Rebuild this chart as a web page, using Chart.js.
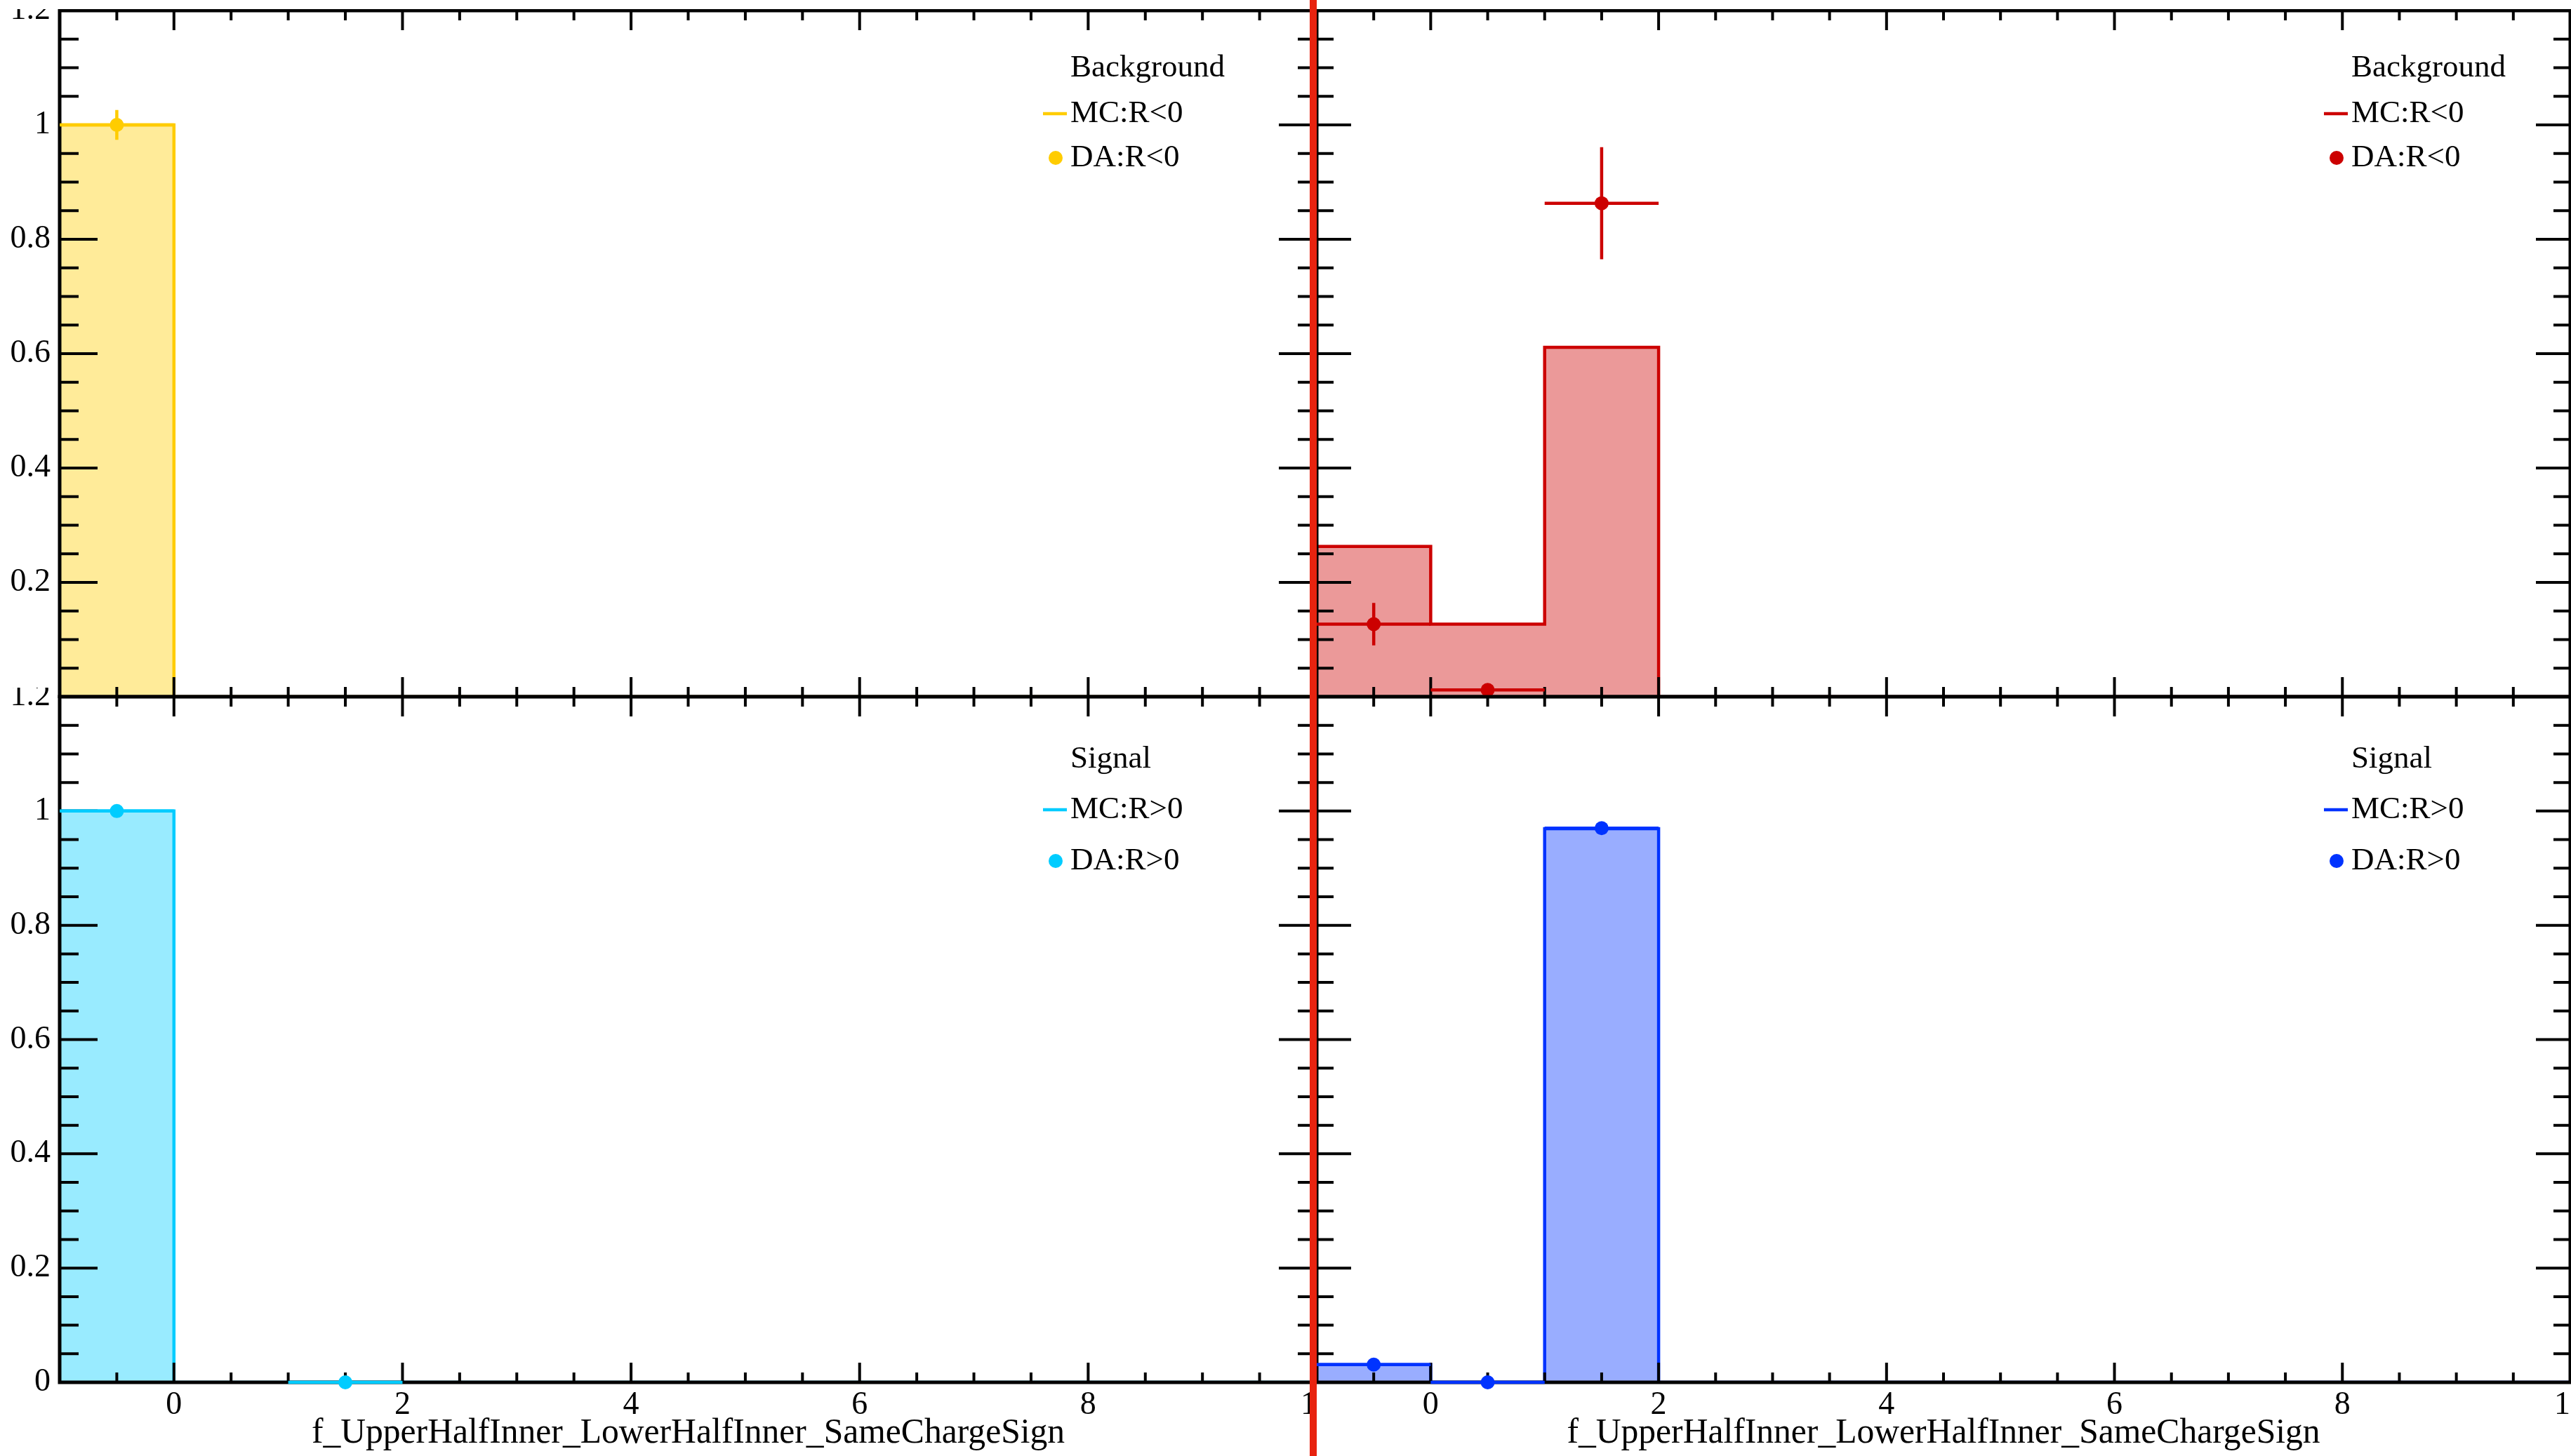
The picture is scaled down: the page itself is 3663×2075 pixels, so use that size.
<!DOCTYPE html>
<html>
<head>
<meta charset="utf-8">
<script src="https://cdn.jsdelivr.net/npm/chart.js@4.4.1/dist/chart.umd.min.js"></script>
<style>
html,body{margin:0;padding:0;background:#fff;overflow:hidden;}
body{width:3663px;height:2075px;position:relative;}
canvas{position:absolute;display:block;}
#redline{position:absolute;left:1866px;top:0;width:10px;height:2075px;background:#e8230f;}
</style>
</head>
<body>
<canvas id="tl" width="1876" height="982" style="left:0px;top:13px;width:1876px;height:982px"></canvas>
<canvas id="tr" width="1789" height="982" style="left:1874px;top:13px;width:1789px;height:982px"></canvas>
<canvas id="bl" width="1876" height="1095" style="left:0px;top:980px;width:1876px;height:1095px"></canvas>
<canvas id="br" width="1789" height="1095" style="left:1874px;top:980px;width:1789px;height:1095px"></canvas>
<div id="redline"></div>
<script>
// ---------------- data ----------------
const binEdges = [-1, 0, 1, 2, 3, 4, 5, 6, 7, 8, 9, 10];
const xTickValues = [0, 2, 4, 6, 8, 10];
const yTickValues = [0, 0.2, 0.4, 0.6, 0.8, 1, 1.2];
const xTitle = 'f_UpperHalfInner_LowerHalfInner_SameChargeSign';
const legendHeaders = ['Background', 'Signal'];
const bkgLabels = ['MC:R<0', 'DA:R<0'];
const sigLabels = ['MC:R>0', 'DA:R>0'];

// top-left: background (yellow)
const mcBkgLeft = [1.0, 0, 0, 0, 0, 0, 0, 0, 0, 0, 0];
const daBkgLeft = [1.0, null, null, null, null, null, null, null, null, null, null];
const daBkgLeftErr = [0.026, 0, 0, 0, 0, 0, 0, 0, 0, 0, 0];
// top-right: background (red)
const mcBkgRight = [0.263, 0.127, 0.611, 0, 0, 0, 0, 0, 0, 0, 0];
const daBkgRight = [0.127, 0.012, 0.863, null, null, null, null, null, null, null, null];
const daBkgRightErr = [0.037, 0.006, 0.098, 0, 0, 0, 0, 0, 0, 0, 0];
// bottom-left: signal (cyan)
const mcSigLeft = [1.0, 0, 0, 0, 0, 0, 0, 0, 0, 0, 0];
const daSigLeft = [1.0, null, 0.0, null, null, null, null, null, null, null, null];
const daSigLeftErr = [0.004, 0, 0, 0, 0, 0, 0, 0, 0, 0, 0];
// bottom-right: signal (blue)
const mcSigRight = [0.031, 0, 0.969, 0, 0, 0, 0, 0, 0, 0, 0];
const daSigRight = [0.031, 0.0, 0.970, null, null, null, null, null, null, null, null];
const daSigRightErr = [0.004, 0, 0.006, 0, 0, 0, 0, 0, 0, 0, 0];

// ---------------- helpers ----------------
const FONT = 'Liberation Serif';
Chart.defaults.font.family = FONT;
Chart.defaults.color = '#000';

function stepPoints(values) {
  const pts = values.map((v, i) => ({x: binEdges[i], y: v}));
  pts.push({x: binEdges[binEdges.length - 1], y: values[values.length - 1]});
  return pts;
}
function errPoints(values, errs) {
  const pts = [];
  values.forEach((v, i) => {
    if (v === null) return;
    const lo = binEdges[i], hi = binEdges[i + 1];
    pts.push({x: (lo + hi) / 2, y: v, xe: (hi - lo) / 2, ye: errs[i]});
  });
  return pts;
}

function drawFrame(chart) {
  const {ctx, chartArea: a, scales: {x, y}} = chart;
  const st = chart.options.plugins.rootStyle;
  ctx.save();
  ctx.strokeStyle = '#000';
  ctx.lineWidth = 4;
  ctx.beginPath();
  // x ticks (top and bottom), minor every 0.5, major every 2
  for (let k = 1; k < 22; k++) {
    const v = -1 + k * 0.5;
    const major = Math.abs(v / 2 - Math.round(v / 2)) < 1e-9;
    const len = major ? st.xMajor : st.xMinor;
    const px = x.getPixelForValue(v);
    ctx.moveTo(px, a.bottom); ctx.lineTo(px, a.bottom - len);
    ctx.moveTo(px, a.top); ctx.lineTo(px, a.top + len);
  }
  // y ticks (left and right), minor every 0.05, major every 0.2
  for (let k = 1; k < 24; k++) {
    const v = k * 0.05;
    const major = k % 4 === 0;
    const len = major ? st.yMajor : st.yMinor;
    const py = y.getPixelForValue(v);
    ctx.moveTo(a.left, py); ctx.lineTo(a.left + len, py);
    ctx.moveTo(a.right, py); ctx.lineTo(a.right - len, py);
  }
  ctx.stroke();
  ctx.lineWidth = 5;
  ctx.strokeRect(a.left, a.top, a.right - a.left, a.bottom - a.top);
  ctx.restore();
}

function drawErrors(chart, ds) {
  const {ctx, scales: {x, y}} = chart;
  ctx.save();
  ctx.strokeStyle = ds.pointBackgroundColor;
  ctx.lineWidth = 4.5;
  ctx.beginPath();
  ds.data.forEach(p => {
    const px = x.getPixelForValue(p.x), py = y.getPixelForValue(p.y);
    ctx.moveTo(x.getPixelForValue(p.x - p.xe), py);
    ctx.lineTo(x.getPixelForValue(p.x + p.xe), py);
    if (p.ye > 0) {
      ctx.moveTo(px, y.getPixelForValue(p.y - p.ye));
      ctx.lineTo(px, y.getPixelForValue(p.y + p.ye));
    }
  });
  ctx.stroke();
  ctx.restore();
}

function drawLegend(chart) {
  const o = chart.options.plugins.rootLegend;
  const {ctx, chartArea: a} = chart;
  const tx = a.left + o.dx;
  ctx.save();
  ctx.font = '45px "' + FONT + '"';
  ctx.textBaseline = 'middle';
  ctx.textAlign = 'left';
  ctx.fillStyle = '#000';
  ctx.fillText(o.header, tx, a.top + o.rows[0]);
  chart.data.datasets.forEach((ds, i) => {
    const ry = a.top + o.rows[i + 1];
    if (ds.kind === 'mc') {
      ctx.strokeStyle = ds.borderColor;
      ctx.lineWidth = 4.5;
      ctx.beginPath();
      ctx.moveTo(tx - 39, ry); ctx.lineTo(tx - 5, ry);
      ctx.stroke();
    } else {
      ctx.fillStyle = ds.pointBackgroundColor;
      ctx.beginPath();
      ctx.arc(tx - 21, ry, 10, 0, Math.PI * 2);
      ctx.fill();
    }
    ctx.fillStyle = '#000';
    ctx.fillText(ds.label, tx, ry);
  });
  ctx.restore();
}

const rootPlugin = {
  id: 'rootStyle',
  beforeDatasetDraw(chart, args) {
    const ds = chart.data.datasets[args.index];
    if (ds.kind === 'da') drawErrors(chart, ds);
  },
  afterDatasetDraw(chart, args) {
    const ds = chart.data.datasets[args.index];
    if (ds.kind === 'mc') drawFrame(chart);
  },
  afterDraw(chart) { drawLegend(chart); }
};

const panels = [
  {id: 'tl', mc: mcBkgLeft, da: daBkgLeft, err: daBkgLeftErr, line: '#ffcc00', fill: 'rgba(255,204,0,0.4)',
   header: legendHeaders[0], labels: bkgLabels, leftCol: true, topRow: true, dx: 1440, rows: [82, 147, 210]},
  {id: 'tr', mc: mcBkgRight, da: daBkgRight, err: daBkgRightErr, line: '#cc0000', fill: 'rgba(204,0,0,0.4)',
   header: legendHeaders[0], labels: bkgLabels, leftCol: false, topRow: true, dx: 1474, rows: [82, 147, 210]},
  {id: 'bl', mc: mcSigLeft, da: daSigLeft, err: daSigLeftErr, line: '#00ccff', fill: 'rgba(0,204,255,0.4)',
   header: legendHeaders[1], labels: sigLabels, leftCol: true, topRow: false, dx: 1440, rows: [89, 161, 234]},
  {id: 'br', mc: mcSigRight, da: daSigRight, err: daSigRightErr, line: '#0033ff', fill: 'rgba(0,51,255,0.4)',
   header: legendHeaders[1], labels: sigLabels, leftCol: false, topRow: false, dx: 1474, rows: [89, 161, 234]}
];

panels.forEach(p => {
  const yScale = {
    type: 'linear', min: 0, max: 1.2,
    display: p.leftCol,
    afterBuildTicks: s => { s.ticks = yTickValues.map(v => ({value: v})); },
    grid: {display: false, drawTicks: false},
    border: {display: false},
    ticks: {
      color: '#000', font: {family: FONT, size: 46}, padding: 13,
      callback: (v) => (p.topRow && v === 0) ? '' : String(v)
    },
    afterFit: s => { s.width = p.leftCol ? 85 : 0; s.paddingTop = 0; s.paddingBottom = 0; }
  };
  const xScale = {
    type: 'linear', min: -1, max: 10,
    display: !p.topRow,
    afterBuildTicks: s => { s.ticks = xTickValues.map(v => ({value: v})); },
    grid: {display: false, drawTicks: false},
    border: {display: false},
    ticks: {color: '#000', font: {family: FONT, size: 46}, padding: 5, maxRotation: 0, autoSkip: false},
    title: {display: true, text: xTitle, color: '#000', font: {family: FONT, size: 49.6}, padding: {top: 0, bottom: 2}},
    afterFit: s => { s.height = p.topRow ? 0 : 105; s.paddingLeft = 0; s.paddingRight = 0; }
  };
  const pad = {
    left: p.leftCol ? 0 : 2,
    right: p.leftCol ? 0 : 1,
    top: p.topRow ? 2 : 13,
    bottom: p.topRow ? 2 : 0
  };
  new Chart(document.getElementById(p.id), {
    type: 'line',
    data: {
      datasets: [
        {
          kind: 'mc', label: p.labels[0], data: stepPoints(p.mc),
          stepped: 'before', borderColor: p.line, borderWidth: 4.5,
          backgroundColor: p.fill, fill: 'origin', pointRadius: 0, order: 1
        },
        {
          kind: 'da', label: p.labels[1], data: errPoints(p.da, p.err),
          showLine: false, pointRadius: 10, pointBorderWidth: 0,
          pointBackgroundColor: p.line, borderColor: p.line, backgroundColor: p.line,
          clip: false, order: 0
        }
      ]
    },
    options: {
      responsive: false, animation: false, devicePixelRatio: 1,
      layout: {padding: pad, autoPadding: false},
      scales: {x: xScale, y: yScale},
      plugins: {
        legend: {display: false}, tooltip: {enabled: false},
        rootStyle: {xMajor: 28, xMinor: 14, yMajor: p.leftCol ? 54 : 49, yMinor: p.leftCol ? 27 : 24},
        rootLegend: {header: p.header, dx: p.dx, rows: p.rows}
      }
    },
    plugins: [rootPlugin]
  });
});
</script>
</body>
</html>
